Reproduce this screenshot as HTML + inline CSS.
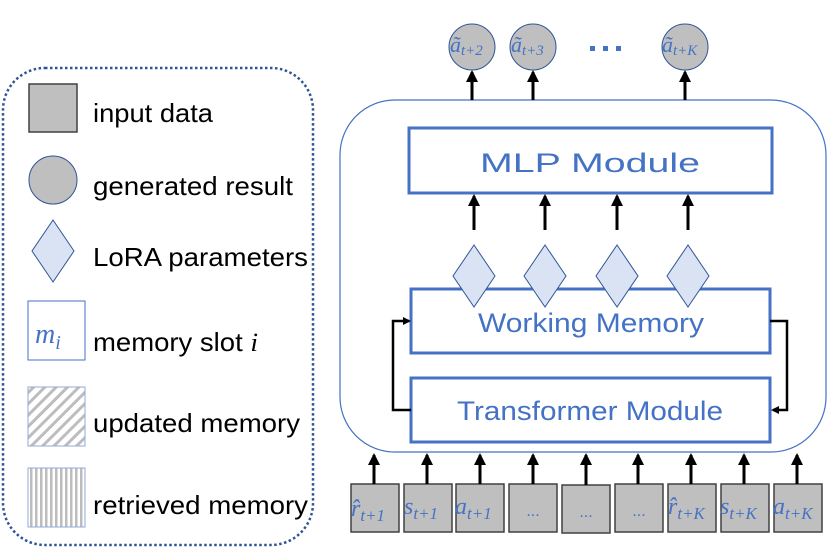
<!DOCTYPE html>
<html><head><style>body{margin:0;background:#fff}</style></head><body>
<svg width="830" height="547" viewBox="0 0 830 547" xmlns="http://www.w3.org/2000/svg" font-family="Liberation Sans, sans-serif">
<defs>
<pattern id="diag" width="8" height="8" patternUnits="userSpaceOnUse" patternTransform="rotate(45)"><rect width="8" height="8" fill="#fff"/><rect width="3" height="8" fill="#bdbdbd"/></pattern>
<pattern id="vert" width="5" height="5" patternUnits="userSpaceOnUse"><rect width="5" height="5" fill="#fff"/><rect width="2.5" height="5" fill="#bdbdbd"/></pattern>
<marker id="ah" markerWidth="8" markerHeight="8" refX="6" refY="4" orient="auto" markerUnits="userSpaceOnUse"><path d="M0,0 L8,4 L0,8 Z" fill="#000"/></marker>
<marker id="ahs" markerWidth="12" markerHeight="12" refX="10" refY="6" orient="auto" markerUnits="userSpaceOnUse"><path d="M0,0 L12,6 L0,12 Z" fill="#000"/></marker>
</defs>
<rect x="3" y="68" width="310" height="477" rx="42" fill="none" stroke="#2f5597" stroke-width="2.5" stroke-dasharray="2.5 2.5"/>
<rect x="29" y="84" width="48" height="48" fill="#bfbfbf" stroke="#404040" stroke-width="1.5"/>
<circle cx="53" cy="180" r="24" fill="#bfbfbf" stroke="#2f5597" stroke-width="1"/>
<polygon points="53,220 74,251 53,282 32,251" fill="#dae3f3" stroke="#2f5597" stroke-width="1"/>
<rect x="28" y="301" width="57" height="59" fill="#fff" stroke="#4472c4" stroke-width="1"/>
<text x="35" y="343" font-family="Liberation Serif, serif" font-style="italic" font-size="28" fill="#4472c4">m<tspan font-size="20" dy="6">i</tspan></text>
<rect x="28" y="387" width="57" height="59" fill="url(#diag)" stroke="#8faadc" stroke-width="1"/>
<rect x="28" y="468" width="57" height="59" fill="url(#vert)" stroke="#8faadc" stroke-width="1"/>
<g font-size="26" fill="#000" lengthAdjust="spacingAndGlyphs">
<text x="93" y="122" textLength="120" lengthAdjust="spacingAndGlyphs">input data</text>
<text x="93" y="195" textLength="200" lengthAdjust="spacingAndGlyphs">generated result</text>
<text x="93" y="266" textLength="215" lengthAdjust="spacingAndGlyphs">LoRA parameters</text>
<text x="93" y="351" textLength="165" lengthAdjust="spacingAndGlyphs">memory slot <tspan font-family="Liberation Serif, serif" font-style="italic">i</tspan></text>
<text x="93" y="432" textLength="207" lengthAdjust="spacingAndGlyphs">updated memory</text>
<text x="93" y="514" textLength="215" lengthAdjust="spacingAndGlyphs">retrieved memory</text>
</g>
<rect x="340" y="100" width="486" height="352" rx="55" fill="none" stroke="#4472c4" stroke-width="1.2"/>
<rect x="409" y="128" width="363" height="65" fill="#fff" stroke="#4472c4" stroke-width="3"/>
<text x="480" y="172" font-size="27" fill="#4472c4" textLength="220" lengthAdjust="spacingAndGlyphs">MLP Module</text>
<rect x="411" y="289" width="359" height="64" fill="#fff" stroke="#4472c4" stroke-width="3"/>
<text x="478" y="332" font-size="27" fill="#4472c4" textLength="226" lengthAdjust="spacingAndGlyphs">Working Memory</text>
<rect x="411" y="378" width="359" height="64" fill="#fff" stroke="#4472c4" stroke-width="3"/>
<text x="457" y="420" font-size="27" fill="#4472c4" textLength="266" lengthAdjust="spacingAndGlyphs">Transformer Module</text>
<g fill="#dae3f3" stroke="#2f5597" stroke-width="1">
<polygon points="474,245 495,276 474,307 453,276"/>
<polygon points="545,245 566,276 545,307 524,276"/>
<polygon points="617,245 638,276 617,307 596,276"/>
<polygon points="688,245 709,276 688,307 667,276"/>
</g>
<g stroke="#000" stroke-width="3" marker-end="url(#ahs)">
<line x1="474" y1="230" x2="474" y2="196"/>
<line x1="545" y1="230" x2="545" y2="196"/>
<line x1="617" y1="230" x2="617" y2="196"/>
<line x1="688" y1="230" x2="688" y2="196"/>
<line x1="472" y1="100" x2="472" y2="72"/>
<line x1="533" y1="100" x2="533" y2="72"/>
<line x1="685" y1="100" x2="685" y2="72"/>
</g>
<g stroke="#000" stroke-width="2.5" fill="none" marker-end="url(#ah)">
<polyline points="411,410 393,410 393,321 409,321"/>
<polyline points="770,321 787,321 787,410 773,410"/>
</g>
<g fill="#bfbfbf" stroke="#2f5597" stroke-width="1">
<circle cx="472" cy="47" r="23"/><circle cx="533" cy="47" r="23"/><circle cx="685" cy="47" r="23"/>
</g>
<g font-family="Liberation Serif, serif" font-style="italic" fill="#4472c4">
<text x="450" y="52" font-size="22">ã<tspan font-size="15" dy="3">t+2</tspan></text>
<text x="511" y="52" font-size="22">ã<tspan font-size="15" dy="3">t+3</tspan></text>
<text x="662" y="52" font-size="22">ã<tspan font-size="15" dy="3">t+K</tspan></text>
</g>
<g fill="#4472c4"><rect x="590" y="46" width="5" height="5"/><rect x="603" y="46" width="5" height="5"/><rect x="616" y="46" width="5" height="5"/></g>
<g fill="#bfbfbf" stroke="#404040" stroke-width="1.5">
<rect x="351" y="484" width="48" height="48"/><rect x="404" y="484" width="48" height="48"/><rect x="456" y="484" width="48" height="48"/>
<rect x="509" y="484" width="48" height="48"/><rect x="562" y="485" width="48" height="48"/><rect x="615" y="484" width="48" height="48"/>
<rect x="668" y="484" width="48" height="48"/><rect x="721" y="484" width="48" height="48"/><rect x="774" y="484" width="48" height="48"/>
</g>
<g stroke="#000" stroke-width="3" marker-end="url(#ahs)">
<line x1="374" y1="484" x2="374" y2="455"/><line x1="427" y1="484" x2="427" y2="455"/><line x1="480" y1="484" x2="480" y2="455"/>
<line x1="533" y1="484" x2="533" y2="455"/><line x1="586" y1="485" x2="586" y2="455"/><line x1="638" y1="484" x2="638" y2="455"/>
<line x1="691" y1="484" x2="691" y2="455"/><line x1="744" y1="484" x2="744" y2="455"/><line x1="797" y1="484" x2="797" y2="455"/>
</g>
<g font-family="Liberation Serif, serif" font-style="italic" fill="#4472c4" font-size="24">
<text x="351" y="516">r̂<tspan font-size="17" dy="5">t+1</tspan></text>
<text x="404" y="514">s<tspan font-size="17" dy="5">t+1</tspan></text>
<text x="455" y="514">a<tspan font-size="17" dy="5">t+1</tspan></text>
<text x="668" y="514">r̂<tspan font-size="17" dy="5">t+K</tspan></text>
<text x="720" y="514">s<tspan font-size="17" dy="5">t+K</tspan></text>
<text x="773" y="514">a<tspan font-size="17" dy="5">t+K</tspan></text>
</g>
<g font-size="16" fill="#4472c4" text-anchor="middle">
<text x="533" y="516">...</text><text x="586" y="517">...</text><text x="639" y="516">...</text>
</g>
</svg>
</body></html>
